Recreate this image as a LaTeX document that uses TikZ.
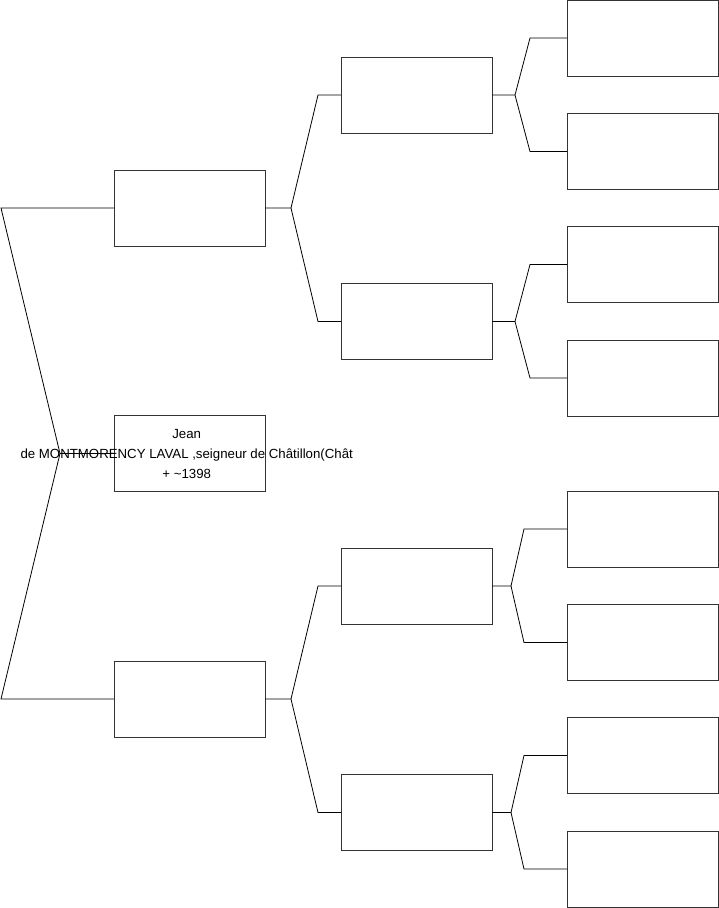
\documentclass[tikz,border=0pt]{standalone}
\usepackage{fontspec}
\setmainfont{Liberation Sans}
\usetikzlibrary{positioning}

\begin{document}
\begin{tikzpicture}[
  x=1pt, y=-1pt,
  pbox/.style={draw=black!80, line width=0.8pt, minimum width=151pt, minimum height=76pt, inner sep=0pt, outer sep=0pt},
  ptxt/.style={align=center, inner sep=0pt, font=\fontsize{13.25}{20}\selectfont},
  ln/.style={draw=black, line width=0.8pt}]
\useasboundingbox (0,0) rectangle (719,908);
% generation 1
\node[pbox] (p1) at (189.5,453.5) {};
\node[ptxt] (t1) at ([xshift=-2.8pt]p1.center) {Jean\\de MONTMORENCY LAVAL ,seigneur de Châtillon(Chât\\+ \textasciitilde1398};
% generation 2
\node[pbox] (p2) at (189.5,208) {};
\node[pbox] (p3) at (189.5,699) {};
% generation 3
\node[pbox] (p4) at (416.5,95) {};
\node[pbox] (p5) at (416.5,321.5) {};
\node[pbox] (p6) at (416.5,586) {};
\node[pbox] (p7) at (416.5,812.5) {};
% generation 4
\node[pbox] (p8) at (642.5,38) {};
\node[pbox] (p9) at (642.5,151.5) {};
\node[pbox] (p10) at (642.5,264.5) {};
\node[pbox] (p11) at (642.5,378) {};
\node[pbox] (p12) at (642.5,529) {};
\node[pbox] (p13) at (642.5,642.5) {};
\node[pbox] (p14) at (642.5,755.5) {};
\node[pbox] (p15) at (642.5,869) {};
% forks
\coordinate (j1) at (60,453.5);
\coordinate (e2) at (1,208); \coordinate (e3) at (1,699);
\coordinate (j2) at (291,208);
\coordinate (e4) at (318,95); \coordinate (e5) at (318,321.5);
\coordinate (j3) at (291,699);
\coordinate (e6) at (318,586); \coordinate (e7) at (318,812.5);
\coordinate (j4) at (515,95);
\coordinate (e8) at (530,38); \coordinate (e9) at (530,151.5);
\coordinate (j5) at (515,321.5);
\coordinate (e10) at (530,264.5); \coordinate (e11) at (530,378);
\coordinate (j6) at (511,586);
\coordinate (e12) at (524,529); \coordinate (e13) at (524,642.5);
\coordinate (j7) at (511,812.5);
\coordinate (e14) at (524,755.5); \coordinate (e15) at (524,869);
\draw[ln] (p1.west) -- (j1) -- (e2) -- (p2.west); \draw[ln] (j1) -- (e3) -- (p3.west);
\draw[ln] (p2.east) -- (j2) -- (e4) -- (p4.west); \draw[ln] (j2) -- (e5) -- (p5.west);
\draw[ln] (p3.east) -- (j3) -- (e6) -- (p6.west); \draw[ln] (j3) -- (e7) -- (p7.west);
\draw[ln] (p4.east) -- (j4) -- (e8) -- (p8.west); \draw[ln] (j4) -- (e9) -- (p9.west);
\draw[ln] (p5.east) -- (j5) -- (e10) -- (p10.west); \draw[ln] (j5) -- (e11) -- (p11.west);
\draw[ln] (p6.east) -- (j6) -- (e12) -- (p12.west); \draw[ln] (j6) -- (e13) -- (p13.west);
\draw[ln] (p7.east) -- (j7) -- (e14) -- (p14.west); \draw[ln] (j7) -- (e15) -- (p15.west);
\end{tikzpicture}
\end{document}
